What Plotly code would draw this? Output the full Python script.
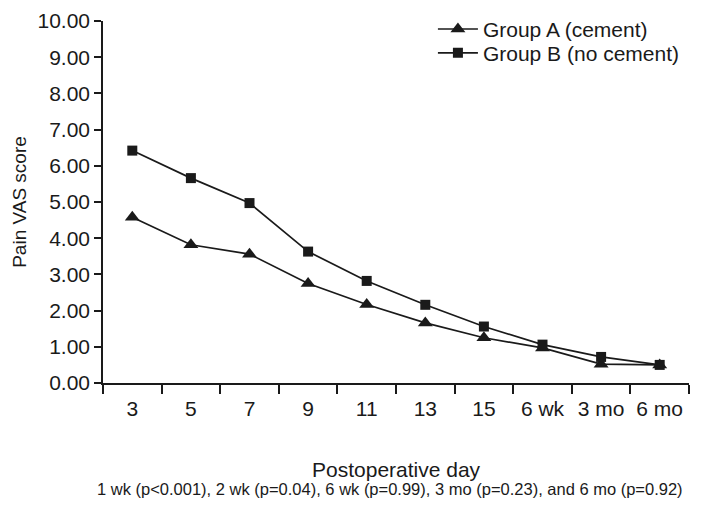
import plotly.graph_objects as go

# postoperative time points and mean pain VAS
days = ['3', '5', '7', '9', '11', '13', '15', '6 wk', '3 mo', '6 mo']
group_a = [4.58, 3.82, 3.56, 2.75, 2.17, 1.66, 1.25, 0.97, 0.52, 0.50]
group_b = [6.42, 5.66, 4.97, 3.63, 2.82, 2.16, 1.56, 1.06, 0.72, 0.50]
footnote = '1 wk (p<0.001), 2 wk (p=0.04), 6 wk (p=0.99), 3 mo (p=0.23), and 6 mo (p=0.92)'

FONT = 'Liberation Sans, Arial, sans-serif'
INK = '#1a1a1a'

fig = go.Figure()
fig.add_trace(go.Scatter(
    x=days, y=group_a, mode='lines+markers', name='Group A (cement)',
    line=dict(color=INK, width=1.7),
    marker=dict(symbol='triangle-up', size=13, color=INK),
    legend='legend'
))
fig.add_trace(go.Scatter(
    x=days, y=group_b, mode='lines+markers', name='Group B (no cement)',
    line=dict(color=INK, width=1.7),
    marker=dict(symbol='square', size=10, color=INK),
    legend='legend2'
))

# page body adds an 8px offset, margins compensate for it
leg = dict(xanchor='left', yanchor='middle', bgcolor='rgba(0,0,0,0)',
           font=dict(size=21), itemwidth=40)
fig.update_layout(
    width=702, height=508,
    margin=dict(l=95, r=21, t=13, b=133, autoexpand=False),
    plot_bgcolor='white', paper_bgcolor='white',
    font=dict(family=FONT, size=21, color=INK),
    showlegend=True,
    legend=dict(leg, x=0.563, y=0.977),
    legend2=dict(leg, x=0.563, y=0.911),
    xaxis=dict(
        type='category', tickson='boundaries', showgrid=False,
        showline=True, linecolor=INK, linewidth=1.5,
        ticks='outside', ticklen=9, tickcolor=INK, tickwidth=1.5,
        ticklabelstandoff=6,
        range=[-0.5, 9.5], automargin=False, zeroline=False
    ),
    yaxis=dict(
        range=[0, 10], tickvals=[0, 1, 2, 3, 4, 5, 6, 7, 8, 9, 10],
        tickformat='.2f', showgrid=False, zeroline=False,
        showline=True, linecolor=INK, linewidth=1.5,
        ticks='outside', ticklen=7, tickcolor=INK, tickwidth=1.5,
        automargin=False,
        title=dict(text='Pain VAS score', standoff=6, font=dict(size=19))
    ),
    annotations=[
        dict(text='Postoperative day', xref='paper', yref='paper',
             x=0.5, y=-0.240, xanchor='center', yanchor='middle',
             showarrow=False, font=dict(size=21, family=FONT, color=INK)),
        dict(text=footnote, xref='paper', yref='paper', x=0.49, y=-0.293,
             xanchor='center', yanchor='middle', showarrow=False,
             font=dict(size=16.5, family=FONT, color=INK)),
    ]
)

fig.write_html("out.html")
